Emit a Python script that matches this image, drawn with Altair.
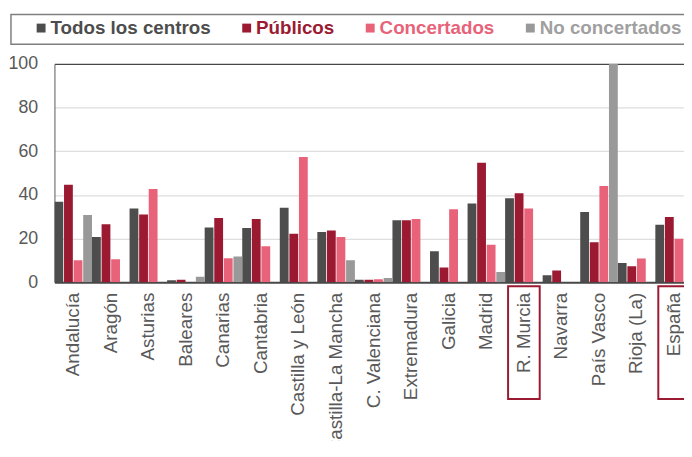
import altair as alt
import pandas as pd

regions = ["Andalucía", "Aragón", "Asturias", "Baleares", "Canarias", "Cantabria",
           "Castilla y León", "Castilla-La Mancha", "C. Valenciana", "Extremadura",
           "Galicia", "Madrid", "R. Murcia", "Navarra", "País Vasco", "Rioja (La)", "España"]
series = ["Todos los centros", "Públicos", "Concertados", "No concertados"]
colors = ["#4d4d4d", "#9b1a32", "#e8637a", "#999999"]

todos = [36.9, 20.7, 33.8, 0.9, 25.1, 24.9, 34.1, 23.0, 1.2, 28.4, 14.2, 36.1, 38.5, 3.2, 32.2, 8.8, 26.4]
publicos = [44.7, 26.6, 31.1, 1.2, 29.5, 29.0, 22.2, 23.7, 1.2, 28.4, 6.8, 54.7, 40.8, 5.4, 18.3, 7.4, 29.9]
concertados = [10.1, 10.6, 42.7, None, 11.0, 16.5, 57.4, 20.8, 1.4, 29.0, 33.5, 17.2, 33.8, None, 44.1, 10.9, 19.9]
no_concertados = [30.8, None, None, 2.6, 11.8, None, None, 10.1, 2.0, None, None, 4.7, None, None, 100.0, None, None]
highlighted = ["R. Murcia", "España"]

rows = []
for s, vals in zip(series, [todos, publicos, concertados, no_concertados]):
    for r, v in zip(regions, vals):
        rows.append({"region": r, "series": s, "value": v})
df = pd.DataFrame(rows)

FONT = "Liberation Sans"
x_scale = alt.Scale(domain=regions, range=[0, 646], paddingInner=0, paddingOuter=0)

label_color_expr = (
    "datum.label === 'Todos los centros' ? '#4d4d4d' : "
    "datum.label === 'Públicos' ? '#9b1a32' : "
    "datum.label === 'Concertados' ? '#e8637a' : '#a0a0a0'"
)

bars = alt.Chart(df).mark_bar(clip=True).encode(
    x=alt.X("region:N", sort=regions, scale=x_scale,
            axis=alt.Axis(title=None, labelAngle=-90, labelFontSize=19, labelFont=FONT,
                          labelColor="#595959", labelPadding=10, ticks=False,
                          domain=False, labelOverlap=False, labelLimit=300)),
    xOffset=alt.XOffset("series:N", sort=series,
                        scale=alt.Scale(domain=series, paddingInner=0.08, paddingOuter=0)),
    y=alt.Y("value:Q", scale=alt.Scale(domain=[0, 100], nice=False),
            axis=alt.Axis(title=None, values=[0, 20, 40, 60, 80, 100], labelFontSize=18,
                          labelFont=FONT, labelColor="#595959", labelPadding=17, ticks=False,
                          domainColor="#595959", domainWidth=1,
                          gridColor={"condition": {"test": "datum.value === 100 || datum.value === 0",
                                                   "value": "#474747"},
                                     "value": "#dedede"},
                          gridWidth={"condition": {"test": "datum.value === 0", "value": 2},
                                     "value": 1.3})),
    color=alt.Color("series:N", sort=series,
                    scale=alt.Scale(domain=series, range=colors),
                    legend=alt.Legend(title=None, orient="none", direction="horizontal",
                                      legendX=-23, legendY=-46, symbolType="square",
                                      symbolSize=81, symbolStrokeWidth=0, labelFont=FONT,
                                      labelFontSize=19, labelFontWeight="bold",
                                      labelColor=alt.ExprRef(label_color_expr),
                                      labelOffset=0, columnPadding=26, padding=0,
                                      labelLimit=400)),
)

boxes = alt.Chart(pd.DataFrame({"region": highlighted})).mark_bar(
    width=32, fill="transparent", stroke="#9b1a32", strokeWidth=2
).encode(
    x=alt.X("region:N", sort=regions, scale=x_scale),
    y=alt.value(225),
    y2=alt.value(339),
)

frame = alt.Chart(pd.DataFrame({"a": [0]})).mark_rect(
    fill="transparent", stroke="#7f7f7f", strokeWidth=1.5
).encode(
    x=alt.value(-44), x2=alt.value(640), y=alt.value(-50), y2=alt.value(-20)
)

chart = alt.layer(frame, bars, boxes).properties(
    width=637, height=221,
    autosize=alt.AutoSizeParams(type="none"),
    padding={"left": 47, "top": 54, "right": 0, "bottom": 158},
).configure_view(strokeWidth=0)

chart.save("out.html", embed_options={"renderer": "svg", "actions": False})
